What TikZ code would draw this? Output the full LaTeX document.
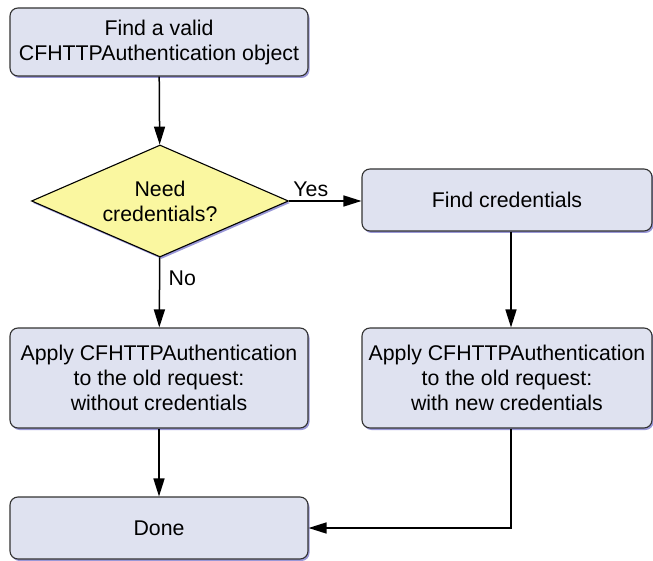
\documentclass[tikz,border=0pt]{standalone}
\usepackage{fontspec}
\setmainfont{Liberation Sans}
\usetikzlibrary{shapes.geometric,shadows,arrows.meta}

\definecolor{boxfill}{HTML}{DFE2F0}
\definecolor{askfill}{HTML}{FAF7A0}
\definecolor{shade}{HTML}{9A98D8}

\begin{document}
\begin{tikzpicture}[x=1pt,y=-1pt,font=\fontsize{21.3}{25}\selectfont,
    stepbox/.style={draw=black!80,line width=1.1pt,fill=boxfill,rounded corners=8pt,
        minimum width=298pt,align=center,inner sep=0pt,
        drop shadow={shadow xshift=1.5pt,shadow yshift=-2pt,fill=shade,opacity=1}},
    ask/.style={diamond,draw=black,line width=1.1pt,fill=askfill,aspect=2.3,
        inner sep=0pt,minimum width=257pt,minimum height=112pt,align=center,
        drop shadow={shadow xshift=1.5pt,shadow yshift=-2pt,fill=shade,opacity=1}},
    flow/.style={-{Triangle[length=18pt,width=11pt]},line width=1.5pt}]
    \useasboundingbox (0,0) rectangle (653,561);

    \node[stepbox,minimum height=68pt] (valid) at (159,42)
        {Find a valid\\CFHTTPAuthentication object};
    \node[ask] (need) at (160,201) {Need\\credentials?};
    \node[stepbox,minimum width=290pt,minimum height=62pt] (findcred) at (507,200)
        {Find credentials};
    \node[stepbox,minimum height=100pt] (applyold) at (159,378)
        {Apply CFHTTPAuthentication\\to the old request:\\without credentials};
    \node[stepbox,minimum width=290pt,minimum height=100pt] (applynew) at (507,378)
        {Apply CFHTTPAuthentication\\to the old request:\\with new credentials};
    \node[stepbox,minimum height=62pt] (done) at (159,528) {Done};

    \draw[flow] (valid) -- (need);
    \draw[flow] (need.east) -- node[above,pos=0.3] {Yes} (need.east -| findcred.west);
    \draw[flow] (need) -- node[right,pos=0.3,xshift=5pt] {No} (applyold);
    \draw[flow] ([xshift=4pt]findcred.south) -- ([xshift=4pt]applynew.north);
    \draw[flow] (applyold) -- (done);
    \draw[flow] ([xshift=4pt]applynew.south) |- (done.east);
\end{tikzpicture}
\end{document}
